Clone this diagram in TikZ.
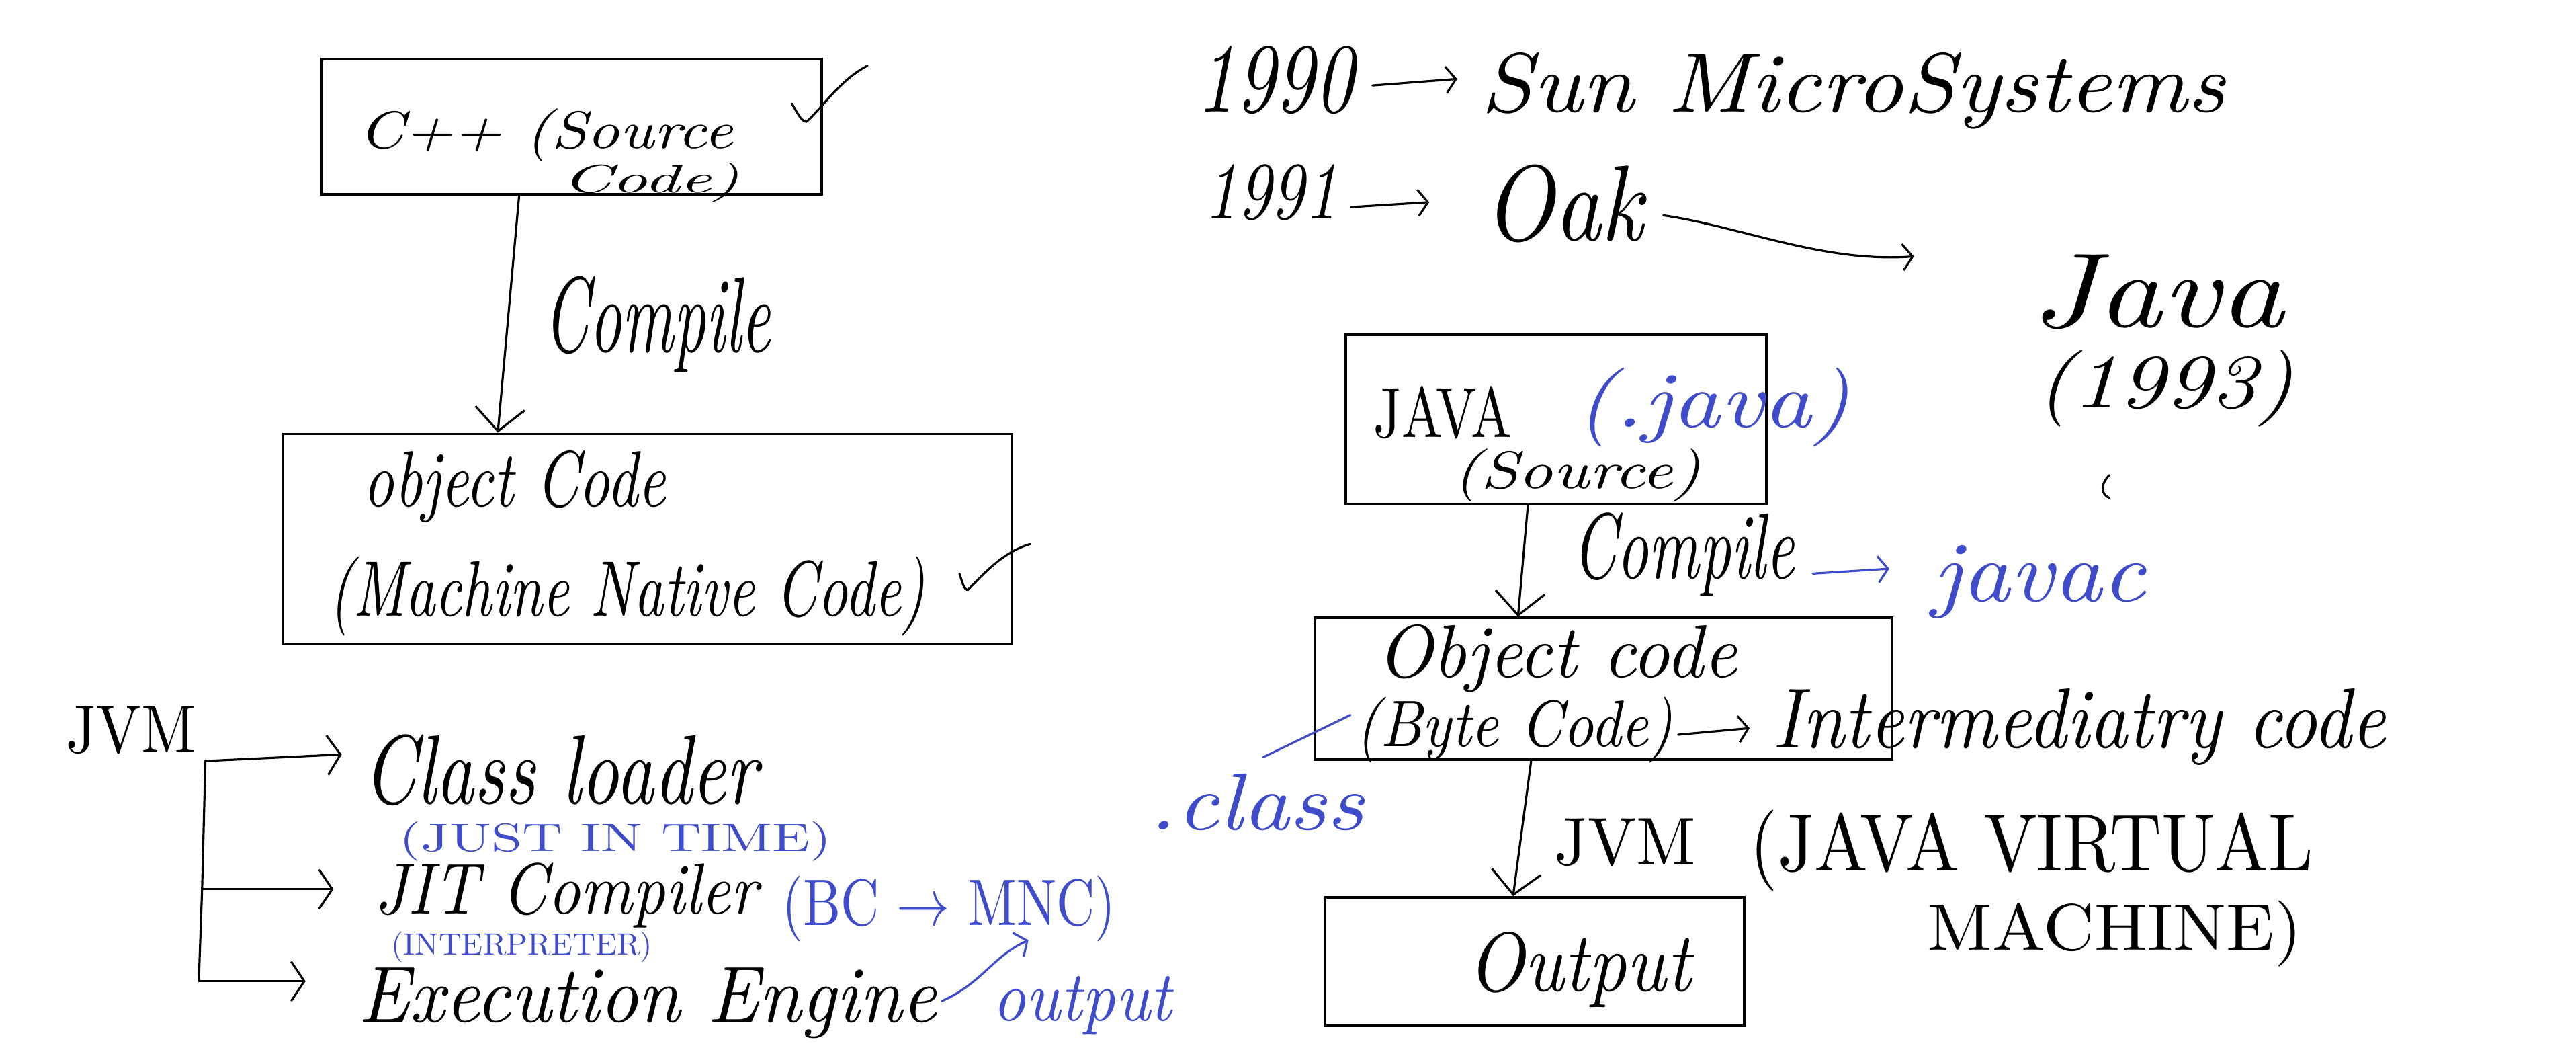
\documentclass[tikz,border=0pt]{standalone}
\usepackage{graphicx}
\usetikzlibrary{arrows.meta,calc}
\definecolor{inkblue}{RGB}{62,76,204}
% width, height above baseline, text
\newcommand{\hw}[3]{\resizebox{#1pt}{#2pt}{\itshape #3}}
\newcommand{\hc}[3]{\resizebox{#1pt}{#2pt}{\upshape #3}}
\begin{document}
\begin{tikzpicture}[x=1pt,y=-1pt,
  ink/.style={line width=1.3pt,draw=black,line cap=round,line join=round},
  blueink/.style={line width=1.3pt,draw=inkblue,line cap=round,line join=round},
  box/.style={draw=black,line width=1.6pt,inner sep=0pt,rectangle},
  txt/.style={inner sep=0pt,text=black,anchor=base west},
  btxt/.style={inner sep=0pt,text=inkblue,anchor=base west},
  bigarr/.style={-{Straight Barb[length=14pt,width=30pt]}},
  brk/.style={-{Straight Barb[length=8pt,width=24pt]}},
  tarr/.style={-{Straight Barb[length=6pt,width=16pt]}}]
\useasboundingbox[fill=white] (0,0) rectangle (1568,641);

% boxes
\node[box,minimum width=304pt,minimum height=82pt] (b1) at (348,77) {};
\node[box,minimum width=444pt,minimum height=128pt] (b2) at (394,328) {};
\node[box,minimum width=256pt,minimum height=103pt] (b3) at (947,255) {};
\node[box,minimum width=351pt,minimum height=86pt] (b4) at (976,419) {};
\node[box,minimum width=255pt,minimum height=78pt] (b5) at (934,585) {};

% left texts (anchored at left end of baseline)
\node[txt] (tcpp) at (218,90) {\hw{228}{24}{C++ (Source}};
\node[txt] (tcode) at (342,117) {\hw{108}{18}{Code)}};
\node[txt] (tcomp1) at (331,214) {\hw{138}{46}{Compile}};
\node[txt] (tobj) at (221,308) {\hw{184}{34}{object Code}};
\node[txt] (tmnc) at (200,375) {\hw{363}{36}{(Machine Native Code)}};
\node[txt] (tjvm) at (40,458) {\hc{79}{28}{JVM}};
\node[txt] (tcl) at (221,489) {\hw{240}{42}{Class loader}};
\node[btxt] (tjust) at (243,518) {\hc{263}{18}{(JUST IN TIME)}};
\node[txt] (tjit) at (228,556) {\hw{233}{31}{JIT Compiler}};
\node[btxt] (tbc) at (476,563) {\hc{203}{30}{(BC $\rightarrow$ MNC)}};
\node[btxt] (tint) at (238,581) {\hc{159}{14}{(INTERPRETER)}};
\node[txt] (texec) at (218,622) {\hw{352}{33}{Execution Engine}};
\node[btxt] (tout) at (604,621) {\hw{109}{27}{output}};
\node[btxt] (tclass) at (699,505) {\hw{131}{34}{.class}};

% right texts
\node[txt] (t1990) at (728,68) {\hw{96}{40}{1990}};
\node[txt] (tsun) at (901,68) {\hw{453}{36}{Sun MicroSystems}};
\node[txt] (t1991) at (733,133) {\hw{81}{33}{1991}};
\node[txt] (toak) at (903,146) {\hw{97}{46}{Oak}};
\node[txt] (tjava) at (1236,199) {\hw{154}{44}{Java}};
\node[txt] (t1993) at (1239,248) {\hw{157}{35}{(1993)}};
\node[txt] (tJAVA) at (836,266) {\hc{84}{31}{JAVA}};
\node[btxt] (tdj) at (959,260) {\hw{167}{36}{(.java)}};
\node[txt] (tsrc) at (884,297) {\hw{151}{24}{(Source)}};
\node[txt] (tcomp2) at (957,352) {\hw{135}{40}{Compile}};
\node[btxt] (tjavac) at (1176,366) {\hw{130}{34}{javac}};
\node[txt] (tobjc) at (838,412) {\hw{219}{32}{Object code}};
\node[txt] (tbyte) at (825,454) {\hw{193}{30}{(Byte Code)}};
\node[txt] (tinter) at (1079,455) {\hw{373}{36}{Intermediatry code}};
\node[txt] (tjvm2) at (946,526) {\hc{86}{28}{JVM}};
\node[txt] (tjvmf) at (1065,530) {\hc{343}{37}{(JAVA VIRTUAL}};
\node[txt] (tmach) at (1173,578) {\hc{228}{30}{MACHINE)}};
\node[txt] (toutput) at (893,603) {\hw{136}{36}{Output}};

% box connectors
\draw[ink,bigarr] ([xshift=-32pt]b1.south) -- ([xshift=-91pt]b2.north);
\draw[ink,bigarr] ([xshift=-17pt]b3.south) -- ([xshift=-52pt]b4.north);
\draw[ink,bigarr] ([xshift=-44pt]b4.south) -- ([xshift=-13pt]b5.north);

% JVM bracket
\coordinate (jv) at (125,463);
\coordinate (jvm) at (123,541);
\coordinate (jvb) at (121,597);
\draw[ink] (jv) -- (jvm) -- (jvb);
\draw[ink,brk] (jv) -- ([xshift=-13pt,yshift=30pt]tcl.base west);
\draw[ink,brk] (jvm) -- ([xshift=-25pt,yshift=15pt]tjit.base west);
\draw[ink,brk] (jvb) -- ([xshift=-32pt,yshift=25pt]texec.base west);

% text arrows
\draw[ink,tarr] ([xshift=11pt,yshift=16pt]t1990.base east) -- ([xshift=-14pt,yshift=20pt]tsun.base west);
\draw[ink,tarr] ([xshift=8pt,yshift=7pt]t1991.base east) -- ([xshift=-33pt,yshift=23pt]toak.base west);
\coordinate (oakend) at (1165,156);
\draw[ink,tarr] ([xshift=12pt,yshift=15pt]toak.base east) .. controls (1060,138) and (1110,160) .. (oakend);
\draw[blueink,tarr] ([xshift=11pt,yshift=3pt]tcomp2.base east) -- ([xshift=-26pt,yshift=20pt]tjavac.base west);
\draw[ink,tarr] ([xshift=3pt,yshift=7pt]tbyte.base east) -- ([xshift=-14pt,yshift=12pt]tinter.base west);
\coordinate (mnctip) at (626,572);
\draw[blueink,tarr] ([xshift=3pt,yshift=13pt]texec.base east) .. controls (598,598) and (604,582) .. (mnctip);
\draw[blueink] ([xshift=-3pt,yshift=19pt]tbyte.base west) -- ([xshift=4pt,yshift=10pt]tclass.north);

% check marks and stray stroke
\draw[ink] (482,63) .. controls (486,70) and (488,74) .. (491,74) .. controls (500,66) and (512,48) .. (528,40);
\draw[ink] (584,349) .. controls (586,355) and (587,359) .. (589,359) .. controls (598,350) and (610,336) .. (627,331);
\draw[ink] (1284,289) .. controls (1278,295) and (1279,301) .. (1284,303);
\end{tikzpicture}
\end{document}
